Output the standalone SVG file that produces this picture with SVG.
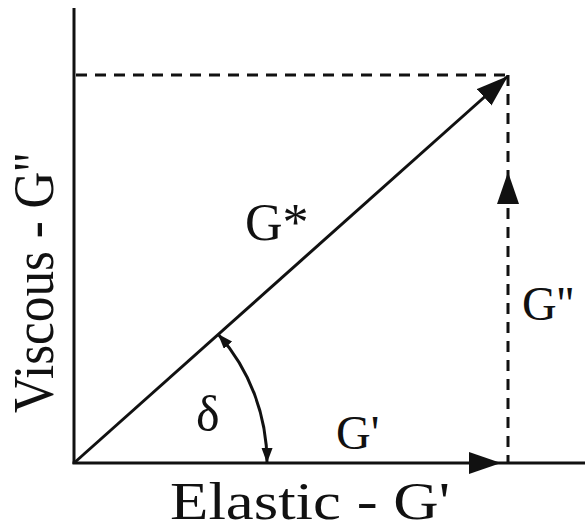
<svg xmlns="http://www.w3.org/2000/svg" width="585" height="531" viewBox="0 0 585 531">
<style>
.ax{stroke:#111;stroke-width:3;fill:none}
.ds{stroke:#111;stroke-width:3;fill:none;stroke-dasharray:11 8}
.t{font-family:"Liberation Serif","Times New Roman",serif;fill:#111}
</style>
<defs>
<marker id="big" markerUnits="userSpaceOnUse" markerWidth="34" markerHeight="24" refX="32" refY="11" orient="auto">
<path d="M0,0 L32,11 L0,22 z" fill="#111"/>
</marker>
<marker id="sm" markerUnits="userSpaceOnUse" markerWidth="16" markerHeight="12" refX="15" refY="5.5" orient="auto-start-reverse">
<path d="M0,0 L15,5.5 L0,11 z" fill="#111"/>
</marker>
</defs>
<rect width="585" height="531" fill="#fff"/>
<g id="connectors">
<line class="ax" x1="74" y1="8" x2="74" y2="464"/>
<line class="ax" x1="72.5" y1="463" x2="585" y2="463"/>
<line class="ds" x1="76" y1="75" x2="509" y2="75"/>
<line class="ds" x1="508" y1="75" x2="508" y2="463"/>
<line class="ax" x1="74" y1="463" x2="508" y2="76" marker-end="url(#big)"/>
<line x1="470" y1="463" x2="501" y2="463" stroke="none" marker-end="url(#big)"/>
<line x1="508" y1="205" x2="508" y2="172" stroke="none" marker-end="url(#big)"/>
<path class="ax" stroke-width="2.5" d="M218,334 A193,193 0 0 1 267,463" marker-start="url(#sm)" marker-end="url(#sm)"/>
</g>
<g id="labels">
<text class="t" x="245" y="240" font-size="52">G*</text>
<text class="t" x="196" y="431" font-size="50">δ</text>
<text class="t" x="336" y="449" font-size="48">G'</text>
<text class="t" x="522" y="320" font-size="48">G''</text>
<text class="t" x="170" y="519" font-size="52" textLength="280" lengthAdjust="spacingAndGlyphs">Elastic - G'</text>
<text class="t" font-size="56" transform="translate(53,413) rotate(-90)" textLength="260" lengthAdjust="spacingAndGlyphs">Viscous - G''</text>
</g>
</svg>
